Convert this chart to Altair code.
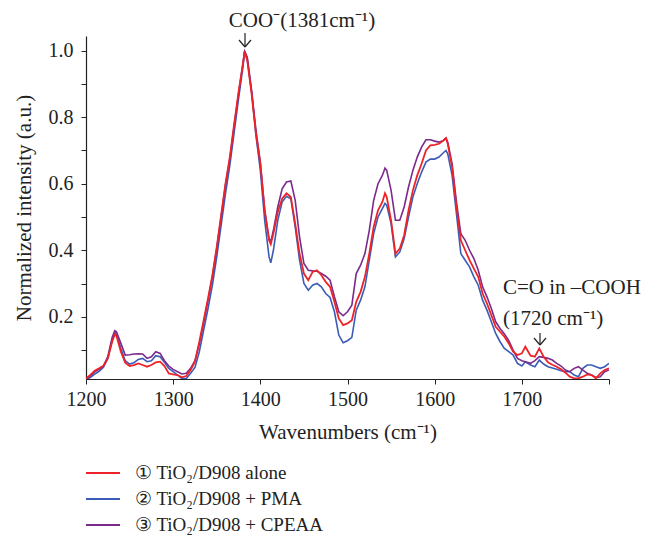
import altair as alt
import pandas as pd

WAVENUMBER = [1200, 1205, 1210, 1215, 1220, 1225, 1230, 1233, 1235, 1240, 1245, 1250, 1255, 1260,
              1265, 1270, 1275, 1280, 1285, 1290, 1295, 1300, 1305, 1310, 1315, 1320, 1325, 1330,
              1335, 1340, 1345, 1350, 1355, 1360, 1365, 1370, 1375, 1380, 1382, 1385, 1390, 1395,
              1400, 1405, 1410, 1412, 1415, 1420, 1425, 1430, 1435, 1440, 1445, 1450, 1455, 1460,
              1465, 1470, 1475, 1480, 1485, 1490, 1495, 1500, 1505, 1510, 1515, 1520, 1525, 1530,
              1535, 1540, 1543, 1545, 1550, 1555, 1560, 1565, 1570, 1575, 1580, 1585, 1590, 1595,
              1600, 1605, 1610, 1613, 1615, 1620, 1625, 1630, 1635, 1640, 1645, 1650, 1655, 1660,
              1665, 1670, 1675, 1680, 1685, 1690, 1695, 1700, 1704, 1710, 1715, 1720, 1725, 1730,
              1735, 1740, 1745, 1750, 1755, 1760, 1765, 1770, 1775, 1780, 1785, 1790, 1795, 1800]

ALONE = [0.015, 0.025, 0.038, 0.045, 0.053, 0.075, 0.125, 0.147, 0.142, 0.095, 0.062, 0.052, 0.055, 0.060,
         0.055, 0.050, 0.055, 0.063, 0.065, 0.052, 0.030, 0.027, 0.025, 0.018, 0.022, 0.040, 0.065, 0.125,
         0.190, 0.255, 0.325, 0.410, 0.505, 0.600, 0.680, 0.780, 0.875, 0.960, 0.998, 0.970, 0.870, 0.750,
         0.660, 0.520, 0.430, 0.418, 0.450, 0.515, 0.555, 0.571, 0.560, 0.480, 0.390, 0.330, 0.310, 0.335,
         0.340, 0.325, 0.305, 0.290, 0.245, 0.195, 0.175, 0.180, 0.190, 0.245, 0.275, 0.320, 0.390, 0.470,
         0.520, 0.545, 0.571, 0.560, 0.490, 0.390, 0.405, 0.445, 0.520, 0.580, 0.625, 0.660, 0.700, 0.715,
         0.717, 0.720, 0.730, 0.737, 0.720, 0.650, 0.530, 0.430, 0.400, 0.370, 0.345, 0.320, 0.270, 0.240,
         0.205, 0.170, 0.155, 0.140, 0.120, 0.095, 0.085, 0.090, 0.110, 0.083, 0.080, 0.105, 0.080, 0.063,
         0.056, 0.050, 0.042, 0.032, 0.020, 0.015, 0.015, 0.020, 0.027, 0.025, 0.015, 0.030, 0.040, 0.045]

PMA = [0.010, 0.018, 0.028, 0.036, 0.048, 0.075, 0.130, 0.153, 0.148, 0.105, 0.068, 0.058, 0.062, 0.072,
       0.075, 0.065, 0.068, 0.083, 0.080, 0.063, 0.045, 0.035, 0.025, 0.014, 0.014, 0.030, 0.048, 0.095,
       0.160, 0.225, 0.295, 0.380, 0.475, 0.570, 0.655, 0.755, 0.855, 0.950, 0.998, 0.975, 0.875, 0.745,
       0.640, 0.490, 0.380, 0.362, 0.400, 0.490, 0.545, 0.562, 0.555, 0.470, 0.370, 0.300, 0.280, 0.295,
       0.300, 0.290, 0.270, 0.258, 0.215, 0.145, 0.122, 0.128, 0.138, 0.220, 0.250, 0.290, 0.370, 0.450,
       0.500, 0.525, 0.541, 0.535, 0.480, 0.380, 0.395, 0.435, 0.500, 0.560, 0.600, 0.635, 0.665, 0.674,
       0.674, 0.680, 0.693, 0.700, 0.690, 0.625, 0.510, 0.390, 0.370, 0.350, 0.320, 0.295, 0.250, 0.220,
       0.185, 0.150, 0.125, 0.105, 0.095, 0.085, 0.060, 0.052, 0.065, 0.055, 0.050, 0.070, 0.058, 0.050,
       0.046, 0.042, 0.038, 0.035, 0.035, 0.025, 0.020, 0.045, 0.055, 0.055, 0.050, 0.045, 0.050, 0.060]

CPEAA = [0.012, 0.022, 0.035, 0.042, 0.052, 0.080, 0.138, 0.158, 0.155, 0.120, 0.085, 0.086, 0.088, 0.089,
         0.088, 0.075, 0.080, 0.095, 0.090, 0.068, 0.052, 0.042, 0.035, 0.028, 0.030, 0.045, 0.068, 0.118,
         0.182, 0.250, 0.320, 0.405, 0.500, 0.595, 0.675, 0.775, 0.870, 0.960, 0.998, 0.980, 0.880, 0.760,
         0.665, 0.520, 0.435, 0.425, 0.460, 0.530, 0.585, 0.605, 0.608, 0.550, 0.440, 0.360, 0.340, 0.338,
         0.337, 0.330, 0.322, 0.310, 0.260, 0.215, 0.203, 0.215, 0.235, 0.330, 0.355, 0.390, 0.460, 0.550,
         0.600, 0.625, 0.647, 0.640, 0.580, 0.490, 0.490, 0.530, 0.590, 0.640, 0.680, 0.710, 0.732, 0.732,
         0.728, 0.725, 0.730, 0.737, 0.725, 0.660, 0.545, 0.450, 0.430, 0.400, 0.375, 0.340, 0.290, 0.260,
         0.225, 0.185, 0.165, 0.148, 0.128, 0.100, 0.075, 0.068, 0.065, 0.060, 0.068, 0.080, 0.078, 0.075,
         0.070, 0.060, 0.052, 0.040, 0.035, 0.045, 0.050, 0.040, 0.030, 0.025, 0.018, 0.020, 0.035, 0.040]

SERIES = ["① TiO₂/D908 alone", "② TiO₂/D908 + PMA", "③ TiO₂/D908 + CPEAA"]
COLORS = ["#ee2328", "#3b5cb6", "#7b2a8a"]
DRAW_ORDER = [SERIES[1], SERIES[2], SERIES[0]]  # PMA first, CPEAA, alone on top

X_TICKS = [1200, 1300, 1400, 1500, 1600, 1700, 1800]
Y_TICKS = [0.1, 0.2, 0.3, 0.4, 0.5, 0.6, 0.7, 0.8, 0.9, 1.0]

FONT = "Liberation Serif"
INK = "#222222"

rows = []
for name, vals in zip(SERIES, [ALONE, PMA, CPEAA]):
    for w, v in zip(WAVENUMBER, vals):
        rows.append({"wavenumber": w, "intensity": v, "series": name})
df = pd.DataFrame(rows)

x_enc = alt.X("wavenumber:Q",
              scale=alt.Scale(domain=[1200, 1800], nice=False, zero=False),
              axis=alt.Axis(values=X_TICKS, format="d", labelFlush=False,
                            labelExpr="datum.value == 1800 ? '' : datum.label",
                            title="Wavenumbers (cm⁻¹)", titlePadding=12, labelPadding=5))
y_enc = alt.Y("intensity:Q",
              scale=alt.Scale(domain=[0.013, 1.044], nice=False, zero=False),
              axis=alt.Axis(values=Y_TICKS, labelFlush=False,
                            labelExpr="round(datum.value * 10) % 2 == 0 ? format(datum.value, '.1f') : ''",
                            title="Normalized intensity (a.u.)", titlePadding=14, labelPadding=8))
color_enc = alt.Color("series:N", scale=alt.Scale(domain=SERIES, range=COLORS), legend=None)

line_layers = []
for name in DRAW_ORDER:
    line_layers.append(
        alt.Chart(df).transform_filter(alt.datum.series == name)
        .mark_line(strokeWidth=1.8 if name == SERIES[0] else 1.6, clip=True)
        .encode(x=x_enc, y=y_enc, color=color_enc)
    )

# legend drawn below the plot: one stroke sample and one label per series
LEG_TOP, LEG_STEP = 437, 26
legend_layers = []
for i, (name, col) in enumerate(zip(SERIES, COLORS)):
    yy = LEG_TOP + i * LEG_STEP
    legend_layers.append(
        alt.Chart(pd.DataFrame({"s": [name]})).mark_rule(color=col, strokeWidth=2).encode(
            x=alt.value(0), x2=alt.value(34), y=alt.value(yy), y2=alt.value(yy))
    )
    legend_layers.append(
        alt.Chart(pd.DataFrame({"s": [name]})).mark_text(
            align="left", baseline="middle", font=FONT, fontSize=19, color=INK,
        ).encode(text="s:N", x=alt.value(49), y=alt.value(yy))
    )

ANN_TEXT = ["COO⁻(1381cm⁻¹)", "C=O in –COOH", "(1720 cm⁻¹)"]
texts = []
for label, px, py, al in zip(ANN_TEXT, [216, 417, 417], [-15, 252, 283], ["center", "left", "left"]):
    texts.append(
        alt.Chart(pd.DataFrame({"t": [label]})).mark_text(
            align=al, baseline="middle", font=FONT, fontSize=21, color=INK,
        ).encode(text="t:N", x=alt.value(px), y=alt.value(py))
    )

# arrows (shaft + two head strokes) for the two annotations
ARROWS = [(159, -3, 11), (454, 297, 309)]
arrow_layers = []
for ax, ytop, ybot in ARROWS:
    segs = [(ax, ytop, ax, ybot), (ax - 6, ybot - 7, ax, ybot), (ax + 6, ybot - 7, ax, ybot)]
    for x1, y1, x2, y2 in segs:
        arrow_layers.append(
            alt.Chart(pd.DataFrame({"a": [0]})).mark_rule(color=INK, strokeWidth=1.2).encode(
                x=alt.value(x1), x2=alt.value(x2), y=alt.value(y1), y2=alt.value(y2))
        )

chart = alt.layer(*line_layers, *texts, *arrow_layers, *legend_layers).properties(
    width=523, height=343,
    autosize=alt.AutoSizeParams(type="none"),
    padding={"left": 78, "top": 28, "right": 48, "bottom": 156},
).configure_view(stroke=None).configure_axis(
    grid=False, domainColor=INK, tickColor=INK, domainWidth=1.2, tickSize=5,
    labelFont=FONT, titleFont=FONT, labelFontSize=20, titleFontSize=21,
    labelColor=INK, titleColor=INK, titleFontWeight="normal",
)

chart.save("out.html", embed_options={"renderer": "svg", "actions": False})
